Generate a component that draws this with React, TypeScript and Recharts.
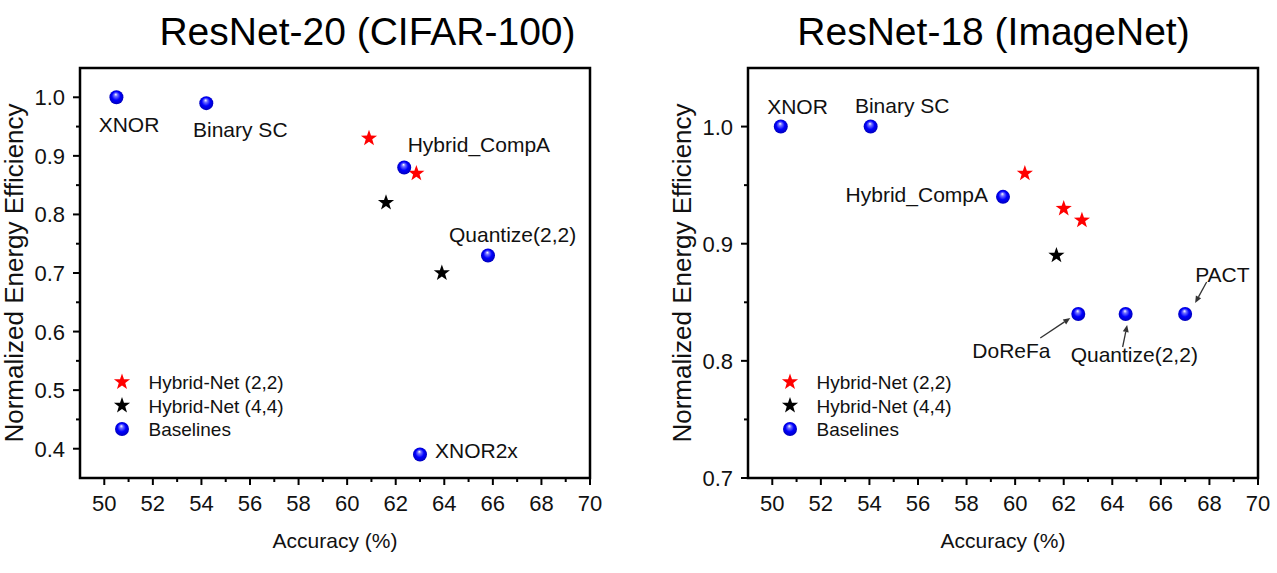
import React from 'react';
import { ScatterChart, Scatter, XAxis, YAxis, ReferenceArea, Legend } from 'recharts';

const FONT = '"Liberation Sans", Arial, Helvetica, sans-serif';

// ResNet-20 on CIFAR-100
const cifarHybrid22 = [
  { acc: 60.9, eff: 0.93 },
  { acc: 62.85, eff: 0.87 },
];
const cifarHybrid44 = [
  { acc: 61.6, eff: 0.82 },
  { acc: 63.9, eff: 0.7 },
];
const cifarBaselines = [
  { name: 'XNOR', acc: 50.5, eff: 1.0 },
  { name: 'Binary SC', acc: 54.2, eff: 0.99 },
  { name: 'Hybrid_CompA', acc: 62.35, eff: 0.88 },
  { name: 'Quantize(2,2)', acc: 65.8, eff: 0.73 },
  { name: 'XNOR2x', acc: 63.0, eff: 0.39 },
];

// ResNet-18 on ImageNet
const imagenetHybrid22 = [
  { acc: 60.4, eff: 0.96 },
  { acc: 62.0, eff: 0.93 },
  { acc: 62.75, eff: 0.92 },
];
const imagenetHybrid44 = [{ acc: 61.7, eff: 0.89 }];
const imagenetBaselines = [
  { name: 'XNOR', acc: 50.35, eff: 1.0 },
  { name: 'Binary SC', acc: 54.05, eff: 1.0 },
  { name: 'Hybrid_CompA', acc: 59.5, eff: 0.94 },
  { name: 'DoReFa', acc: 62.6, eff: 0.84 },
  { name: 'Quantize(2,2)', acc: 64.55, eff: 0.84 },
  { name: 'PACT', acc: 67.0, eff: 0.84 },
];

const accTicks = [50, 51, 52, 53, 54, 55, 56, 57, 58, 59, 60, 61, 62, 63, 64, 65, 66, 67, 68, 69, 70];
const cifarEffTicks = [0.4, 0.45, 0.5, 0.55, 0.6, 0.65, 0.7, 0.75, 0.8, 0.85, 0.9, 0.95, 1.0];
const imagenetEffTicks = [0.7, 0.75, 0.8, 0.85, 0.9, 0.95, 1.0];

type Placement = {
  dx: number;
  dy: number;
  anchor: 'start' | 'middle' | 'end';
  arrow?: [number, number, number, number];
};

// where each baseline's name sits relative to its marker (px)
const cifarLabelPos: Record<string, Placement> = {
  XNOR: { dx: 12.6, dy: 35, anchor: 'middle' },
  'Binary SC': { dx: 34, dy: 33.6, anchor: 'middle' },
  Hybrid_CompA: { dx: 3.5, dy: -16, anchor: 'start' },
  'Quantize(2,2)': { dx: -39, dy: -13.7, anchor: 'start' },
  XNOR2x: { dx: 15, dy: 3.5, anchor: 'start' },
};

const imagenetLabelPos: Record<string, Placement> = {
  XNOR: { dx: 16.7, dy: -12.6, anchor: 'middle' },
  'Binary SC': { dx: -15.7, dy: -14, anchor: 'start' },
  Hybrid_CompA: { dx: -15, dy: 5, anchor: 'end' },
  DoReFa: { dx: -106, dy: 44, anchor: 'start', arrow: [-38, 24, -8, 4] },
  'Quantize(2,2)': { dx: -55, dy: 48, anchor: 'start', arrow: [-3, 33, 1.5, 11] },
  PACT: { dx: 10, dy: -32, anchor: 'start', arrow: [21.5, -32, 10, -11] },
};

const starPoints = (cx: number, cy: number, R: number) => {
  const r = R * 0.4;
  const pts: string[] = [];
  for (let i = 0; i < 10; i++) {
    const rad = i % 2 === 0 ? R : r;
    const a = -Math.PI / 2 + (i * Math.PI) / 5;
    pts.push(`${cx + rad * Math.cos(a)},${cy + rad * Math.sin(a)}`);
  }
  return pts.join(' ');
};

const Star = ({ cx, cy, color }: { cx: number; cy: number; color: string }) => (
  <polygon points={starPoints(cx, cy, 8.5)} fill={color} />
);

const Sphere = ({ cx, cy }: { cx: number; cy: number }) => (
  <circle cx={cx} cy={cy} r={7} fill="url(#sphereBlue)" />
);

const Arrow = ({ x1, y1, x2, y2 }: { x1: number; y1: number; x2: number; y2: number }) => {
  const a = Math.atan2(y2 - y1, x2 - x1);
  const len = 7;
  const hw = 3;
  const bx = x2 - len * Math.cos(a);
  const by = y2 - len * Math.sin(a);
  const px = -Math.sin(a) * hw;
  const py = Math.cos(a) * hw;
  return (
    <g>
      <line x1={x1} y1={y1} x2={bx} y2={by} stroke="#333" strokeWidth={1.3} />
      <polygon points={`${x2},${y2} ${bx + px},${by + py} ${bx - px},${by - py}`} fill="#333" />
    </g>
  );
};

const baselineShape = (placement: Record<string, Placement>) => (props: any) => {
  const { cx, cy, payload } = props;
  const p = placement[payload.name];
  return (
    <g>
      <Sphere cx={cx} cy={cy} />
      {p && (
        <text
          x={cx + p.dx}
          y={cy + p.dy}
          textAnchor={p.anchor}
          fontSize={21}
          fontFamily={FONT}
          fill="#111"
        >
          {payload.name}
        </text>
      )}
      {p && p.arrow && (
        <Arrow x1={cx + p.arrow[0]} y1={cy + p.arrow[1]} x2={cx + p.arrow[2]} y2={cy + p.arrow[3]} />
      )}
    </g>
  );
};

const redStar = (props: any) => <Star cx={props.cx} cy={props.cy} color="#ff0000" />;
const blackStar = (props: any) => <Star cx={props.cx} cy={props.cy} color="#000" />;

const AccTick = (props: any) => {
  const { x, y, payload } = props;
  const v = payload.value;
  const major = v % 2 === 0;
  return (
    <g>
      <line x1={x} x2={x} y1={y} y2={y + (major ? 7 : 4)} stroke="#000" strokeWidth={2} />
      {major && (
        <text x={x} y={y + 33} textAnchor="middle" fontSize={22} fontFamily={FONT} fill="#111">
          {v}
        </text>
      )}
    </g>
  );
};

const EffTick = (props: any) => {
  const { x, y, payload } = props;
  const v = payload.value;
  const major = Math.round(v * 100) % 10 === 0;
  return (
    <g>
      <line x1={x} x2={x - (major ? 7 : 4)} y1={y} y2={y} stroke="#000" strokeWidth={2} />
      {major && (
        <text x={x - 15} y={y + 8} textAnchor="end" fontSize={22} fontFamily={FONT} fill="#111">
          {v.toFixed(1)}
        </text>
      )}
    </g>
  );
};

const EffLabel = (props: any) => {
  const vb = props.viewBox || {};
  const x = vb.x + vb.width - 57;
  const y = vb.y + vb.height / 2;
  return (
    <text
      x={x}
      y={y}
      transform={`rotate(-90, ${x}, ${y})`}
      textAnchor="middle"
      fontSize={26}
      fontFamily={FONT}
      fill="#111"
    >
      Normalized Energy Efficiency
    </text>
  );
};

const legendItems = [
  { label: 'Hybrid-Net (2,2)', kind: 'star', color: '#ff0000' },
  { label: 'Hybrid-Net (4,4)', kind: 'star', color: '#000' },
  { label: 'Baselines', kind: 'sphere', color: '#0000ff' },
];

const LegendBox = () => (
  <svg width={220} height={80} style={{ overflow: 'visible' }}>
    {legendItems.map((it, i) => {
      const y = 17 + i * 23.5;
      return (
        <g key={it.label}>
          {it.kind === 'star' ? <Star cx={22} cy={y} color={it.color} /> : <Sphere cx={22} cy={y} />}
          <text x={48.5} y={y + 7} fontSize={19} fontFamily={FONT} fill="#111">
            {it.label}
          </text>
        </g>
      );
    })}
  </svg>
);

type PanelProps = {
  width: number;
  axisWidth: number;
  right: number;
  yDomain: [number, number];
  yTicks: number[];
  hybrid22: { acc: number; eff: number }[];
  hybrid44: { acc: number; eff: number }[];
  baselines: { name: string; acc: number; eff: number }[];
  placement: Record<string, Placement>;
};

const Panel = ({ width, axisWidth, right, yDomain, yTicks, hybrid22, hybrid44, baselines, placement }: PanelProps) => (
  <ScatterChart width={width} height={573} margin={{ top: 68, right, bottom: 0, left: 0 }}>
    <XAxis
      type="number"
      dataKey="acc"
      domain={[49, 70]}
      ticks={accTicks}
      interval={0}
      height={95}
      axisLine={false}
      tickLine={false}
      tickSize={0}
      tickMargin={0}
      tick={<AccTick />}
      label={{ value: 'Accuracy (%)', position: 'insideBottom', offset: 25, fontSize: 21, fill: '#111', fontFamily: FONT }}
    />
    <YAxis
      type="number"
      dataKey="eff"
      domain={yDomain}
      ticks={yTicks}
      interval={0}
      width={axisWidth}
      axisLine={false}
      tickLine={false}
      tickSize={0}
      tickMargin={0}
      tick={<EffTick />}
      label={{ content: <EffLabel /> }}
    />
    <ReferenceArea
      x1={49}
      x2={70}
      y1={yDomain[0]}
      y2={yDomain[1]}
      fill="#fff"
      fillOpacity={0}
      stroke="#000"
      strokeWidth={2.5}
      ifOverflow="visible"
    />
    <Legend
      layout="horizontal"
      verticalAlign="middle"
      align="center"
      wrapperStyle={{ left: axisWidth + 20, top: 365, width: 220, height: 80 }}
      content={() => <LegendBox />}
    />
    <Scatter name="Hybrid-Net (2,2)" data={hybrid22} shape={redStar} isAnimationActive={false} />
    <Scatter name="Hybrid-Net (4,4)" data={hybrid44} shape={blackStar} isAnimationActive={false} />
    <Scatter name="Baselines" data={baselines} shape={baselineShape(placement)} isAnimationActive={false} />
  </ScatterChart>
);

export default function App() {
  return (
    <div style={{ position: 'absolute', left: 0, top: 0, width: 1277, height: 573, background: '#fff', fontFamily: FONT }}>
      <div style={{ position: 'absolute', left: 0, top: 0 }}>
        <Panel
          width={640}
          axisWidth={80}
          right={50}
          yDomain={[0.35, 1.05]}
          yTicks={cifarEffTicks}
          hybrid22={cifarHybrid22}
          hybrid44={cifarHybrid44}
          baselines={cifarBaselines}
          placement={cifarLabelPos}
        />
      </div>
      <div style={{ position: 'absolute', left: 640, top: 0 }}>
        <Panel
          width={637}
          axisWidth={108}
          right={19}
          yDomain={[0.7, 1.05]}
          yTicks={imagenetEffTicks}
          hybrid22={imagenetHybrid22}
          hybrid44={imagenetHybrid44}
          baselines={imagenetBaselines}
          placement={imagenetLabelPos}
        />
      </div>
      <svg
        width={1277}
        height={573}
        style={{ position: 'absolute', left: 0, top: 0, pointerEvents: 'none' }}
      >
        <defs>
          <radialGradient id="sphereBlue" cx="50%" cy="50%" r="55%" fx="45%" fy="28%">
            <stop offset="0%" stopColor="#ffffff" />
            <stop offset="22%" stopColor="#7070ff" />
            <stop offset="55%" stopColor="#0000ff" />
            <stop offset="100%" stopColor="#0000b0" />
          </radialGradient>
        </defs>
        <text x={367.5} y={45} textAnchor="middle" fontSize={39} fontFamily={FONT} fill="#000">
          ResNet-20 (CIFAR-100)
        </text>
        <text x={993.5} y={45} textAnchor="middle" fontSize={39} fontFamily={FONT} fill="#000">
          ResNet-18 (ImageNet)
        </text>
      </svg>
    </div>
  );
}
